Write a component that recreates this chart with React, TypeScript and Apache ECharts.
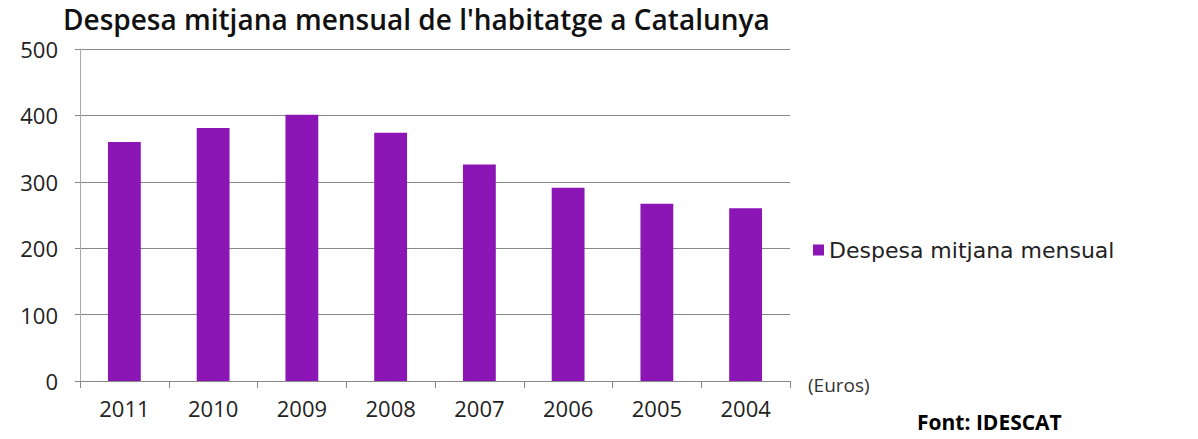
import React, { useEffect, useRef } from "react";
import * as echarts from "echarts";

const categories = ["2011", "2010", "2009", "2008", "2007", "2006", "2005", "2004"];
const values = [360, 381, 401, 374, 326, 291, 267, 260];
const seriesName = "Despesa mitjana mensual";
const titleText = "Despesa mitjana mensual de l'habitatge a Catalunya";
const unitText = "(Euros)";
const sourceText = "Font: IDESCAT";

export default function App() {
  const ref = useRef<HTMLDivElement>(null);
  useEffect(() => {
    const chart = echarts.init(ref.current!, null, { renderer: "svg" });
    chart.setOption({
      animation: false,
      backgroundColor: "#ffffff",
      textStyle: { fontFamily: "Open Sans" },
      title: [
        {
          text: titleText,
          left: 58,
          top: 0,
          textStyle: { fontFamily: "Open Sans", fontWeight: 600, fontSize: 28, color: "#111" },
        },
        {
          text: unitText,
          left: 803,
          top: 370,
          textStyle: { fontFamily: "Open Sans", fontWeight: "normal", fontSize: 19, color: "#333" },
        },
        {
          text: sourceText,
          left: 912,
          top: 406,
          textStyle: { fontFamily: "Open Sans", fontWeight: "bold", fontSize: 21, color: "#000" },
        },
      ],
      legend: {
        data: [seriesName],
        left: 808,
        top: 234,
        icon: "rect",
        itemWidth: 11,
        itemHeight: 11,
        itemGap: 5,
        textStyle: { fontFamily: "DejaVu Sans", fontSize: 22, color: "#222" },
      },
      grid: { left: 80, right: 408, top: 49, bottom: 58, containLabel: false },
      xAxis: {
        type: "category",
        data: categories,
        boundaryGap: true,
        axisLine: { lineStyle: { color: "#888", width: 1 } },
        axisTick: { show: true, alignWithLabel: false, length: 7, lineStyle: { color: "#888" } },
        axisLabel: { fontFamily: "Open Sans", fontSize: 22, color: "#222", margin: 16 },
      },
      yAxis: {
        type: "value",
        min: 0,
        max: 500,
        interval: 100,
        axisLine: { show: true, lineStyle: { color: "#aaa" } },
        axisTick: { show: true, length: 5, lineStyle: { color: "#888" } },
        axisLabel: { fontFamily: "Open Sans", fontSize: 22, color: "#222", margin: 22 },
        splitLine: { lineStyle: { color: "#888", width: 1 } },
      },
      series: [
        {
          name: seriesName,
          type: "bar",
          data: values,
          barWidth: "37%",
          itemStyle: { color: "#8b16b5" },
        },
      ],
    });
    return () => chart.dispose();
  }, []);
  return (
    <div
      ref={ref}
      style={{ position: "fixed", left: 0, top: 0, width: 1198, height: 439 }}
    />
  );
}
